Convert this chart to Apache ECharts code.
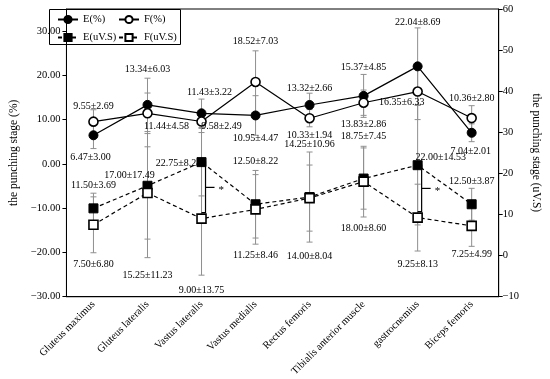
<!DOCTYPE html>
<html><head><meta charset="utf-8">
<script src="https://cdn.jsdelivr.net/npm/echarts@6/dist/echarts.min.js"></script>
<style>html,body{margin:0;padding:0;background:#fff}#c{width:550px;height:379px}</style>
</head><body><div id="c"></div>
<script>
const categories = ['Gluteus maximus','Gluteus lateralis','Vastus lateralis','Vastus medialis','Rectus femoris','Tibialis anterior muscle','gastrocnemius','Biceps femoris'];
const ePct   = [6.47,13.34,11.43,10.95,13.32,15.37,22.04,7.04];
const ePctSd = [3.00,6.03,3.22,4.47,2.66,4.85,8.69,2.01];
const fPct   = [9.55,11.44,9.58,18.52,10.33,13.83,16.35,10.36];
const fPctSd = [2.69,4.58,2.49,7.03,1.94,2.86,6.33,2.80];
const eUvs   = [11.50,17.00,22.75,12.50,14.25,18.75,22.00,12.50];
const eUvsSd = [3.69,17.49,8.22,8.22,10.96,7.45,14.53,3.87];
const fUvs   = [7.50,15.25,9.00,11.25,14.00,18.00,9.25,7.25];
const fUvsSd = [6.80,11.23,13.75,8.46,8.04,8.60,8.13,4.99];
const significant = ['Vastus lateralis','gastrocnemius'];
const leftAxisRange = [-30, 35, 10];
const rightAxisRange = [-10, 60, 10];

// label pixel offsets (layout only)
const ePctOff = [[-3,22],[0,-36],[8,-21],[0,23],[0,-17],[0,-29],[0,-44],[-1,19]];
const fPctOff = [[0,-15],[19,13],[20,5],[0,-41],[0,17],[0,22],[-16,11],[0,-20]];
const eUvsOff = [[0,-23],[-18,-10],[-23,1],[0,-43],[0,-53],[0,-42],[23,-8],[0,-23]];
const fUvsOff = [[0,40],[0,82],[0,72],[0,46],[0,58],[0,47],[0,47],[0,29]];

const FONT = 'Liberation Serif';
const fmt = v => v.toFixed(2);
const minus = s => String(s).replace('-', '\u2212');

function lineData(vals, sds, offs) {
  return vals.map((v, i) => ({
    value: v,
    label: { show: true, position: 'inside', offset: offs[i], formatter: fmt(v) + '\u00b1' + fmt(sds[i]) }
  }));
}
function errSeries(vals, sds, yIdx) {
  return {
    type: 'custom', yAxisIndex: yIdx, z: 1, silent: true,
    data: vals.map((v, i) => [i, v, sds[i]]),
    renderItem: function (params, api) {
      const x = api.value(0), v = api.value(1), s = api.value(2);
      const p1 = api.coord([x, v + s]), p2 = api.coord([x, v - s]);
      const w = 3;
      const st = { stroke: '#8f8f8f', lineWidth: 1 };
      return { type: 'group', children: [
        { type: 'line', shape: { x1: p1[0], y1: p1[1], x2: p2[0], y2: p2[1] }, style: st },
        { type: 'line', shape: { x1: p1[0]-w, y1: p1[1], x2: p1[0]+w, y2: p1[1] }, style: st },
        { type: 'line', shape: { x1: p2[0]-w, y1: p2[1], x2: p2[0]+w, y2: p2[1] }, style: st }
      ]};
    }
  };
}

const labelStyle = { color: '#000', fontFamily: FONT, fontSize: 10 };
const legendBase = {
  orient: 'vertical', top: 14, itemWidth: 20, itemHeight: 9, itemGap: 7, padding: 0,
  textStyle: { fontFamily: FONT, fontSize: 10.5, color: '#000' }
};
const chart = echarts.init(document.getElementById('c'));
chart.setOption({
  animation: false,
  textStyle: { fontFamily: FONT },
  grid: { left: 44, right: 31, top: 9, bottom: 79, show: true, borderColor: '#000', borderWidth: 1 },
  graphic: [{ type: 'rect', left: 49, top: 9, shape: { width: 131, height: 35 },
    style: { fill: '#fff', stroke: '#000', lineWidth: 1 }, z: 0 }],
  legend: [
    Object.assign({}, legendBase, { left: 57, data: ['E(%)', 'E(uV.S)'] }),
    Object.assign({}, legendBase, { left: 118, data: ['F(%)', 'F(uV.S)'] })
  ],
  xAxis: {
    type: 'category', data: categories, boundaryGap: true,
    axisLine: { onZero: false, lineStyle: { color: '#000' } }, axisTick: { show: false },
    axisLabel: { rotate: 45, color: '#000', fontFamily: FONT, fontSize: 10.5, margin: 6, interval: 0 }
  },
  yAxis: [
    { type: 'value', min: leftAxisRange[0], max: leftAxisRange[1], interval: leftAxisRange[2],
      name: 'the punching stage (%)', nameLocation: 'middle', nameGap: 31, nameRotate: 90,
      nameTextStyle: { color: '#000', fontFamily: FONT, fontSize: 11.5 },
      axisLine: { show: true, lineStyle: { color: '#000' } }, axisTick: { show: true, length: 4 },
      splitLine: { show: false },
      axisLabel: { color: '#000', fontFamily: FONT, fontSize: 10.5, margin: 6, showMaxLabel: false,
        formatter: v => minus(v.toFixed(2)) } },
    { type: 'value', min: rightAxisRange[0], max: rightAxisRange[1], interval: rightAxisRange[2],
      name: 'the punching stage (uV.S)', nameLocation: 'middle', nameGap: 22, nameRotate: -90,
      nameTextStyle: { color: '#000', fontFamily: FONT, fontSize: 11.5 },
      axisLine: { show: true, lineStyle: { color: '#000' } }, axisTick: { show: true, length: 4 },
      splitLine: { show: false },
      axisLabel: { color: '#000', fontFamily: FONT, fontSize: 10.5, margin: 4, formatter: v => minus(v) } }
  ],
  series: [
    errSeries(ePct, ePctSd, 0), errSeries(fPct, fPctSd, 0),
    errSeries(eUvs, eUvsSd, 1), errSeries(fUvs, fUvsSd, 1),
    { name: 'E(%)', type: 'line', yAxisIndex: 0, z: 3, data: lineData(ePct, ePctSd, ePctOff),
      symbol: 'circle', symbolSize: 9, lineStyle: { color: '#000', width: 1.2 },
      itemStyle: { color: '#000', borderColor: '#000', borderWidth: 1 }, label: labelStyle },
    { name: 'F(%)', type: 'line', yAxisIndex: 0, z: 3, data: lineData(fPct, fPctSd, fPctOff),
      symbol: 'circle', symbolSize: 9, lineStyle: { color: '#000', width: 1.2 },
      itemStyle: { color: '#fff', borderColor: '#000', borderWidth: 1.6 }, label: labelStyle },
    { name: 'E(uV.S)', type: 'line', yAxisIndex: 1, z: 3, data: lineData(eUvs, eUvsSd, eUvsOff),
      symbol: 'rect', symbolSize: 9, lineStyle: { color: '#000', width: 1.2, type: [4, 3] },
      itemStyle: { color: '#000', borderColor: '#000', borderWidth: 1 }, label: labelStyle },
    { name: 'F(uV.S)', type: 'line', yAxisIndex: 1, z: 3, data: lineData(fUvs, fUvsSd, fUvsOff),
      symbol: 'rect', symbolSize: 9, lineStyle: { color: '#000', width: 1.2, type: [4, 3] },
      itemStyle: { color: '#fff', borderColor: '#000', borderWidth: 1.6 }, label: labelStyle },
    { type: 'custom', yAxisIndex: 1, z: 4, silent: true,
      data: significant.map(c => { const i = categories.indexOf(c); return [i, eUvs[i], fUvs[i]]; }),
      renderItem: function (params, api) {
        const i = api.value(0);
        const pe = api.coord([i, api.value(1)]), pf = api.coord([i, api.value(2)]);
        const x = pe[0] + 4, yt = pe[1], yb = pf[1] - 6, ym = (yt + yb) / 2;
        const st = { stroke: '#000', lineWidth: 1.2, fill: null };
        return { type: 'group', children: [
          { type: 'polyline', shape: { points: [[pe[0], yt], [x, yt], [x, yb], [pe[0], yb]] }, style: st },
          { type: 'line', shape: { x1: x, y1: ym, x2: x + 9, y2: ym }, style: st },
          { type: 'text', style: { text: '*', x: x + 13, y: ym + 3, fill: '#000', font: '11px ' + FONT, verticalAlign: 'middle' } }
        ]};
      } }
  ]
});
</script></body></html>
